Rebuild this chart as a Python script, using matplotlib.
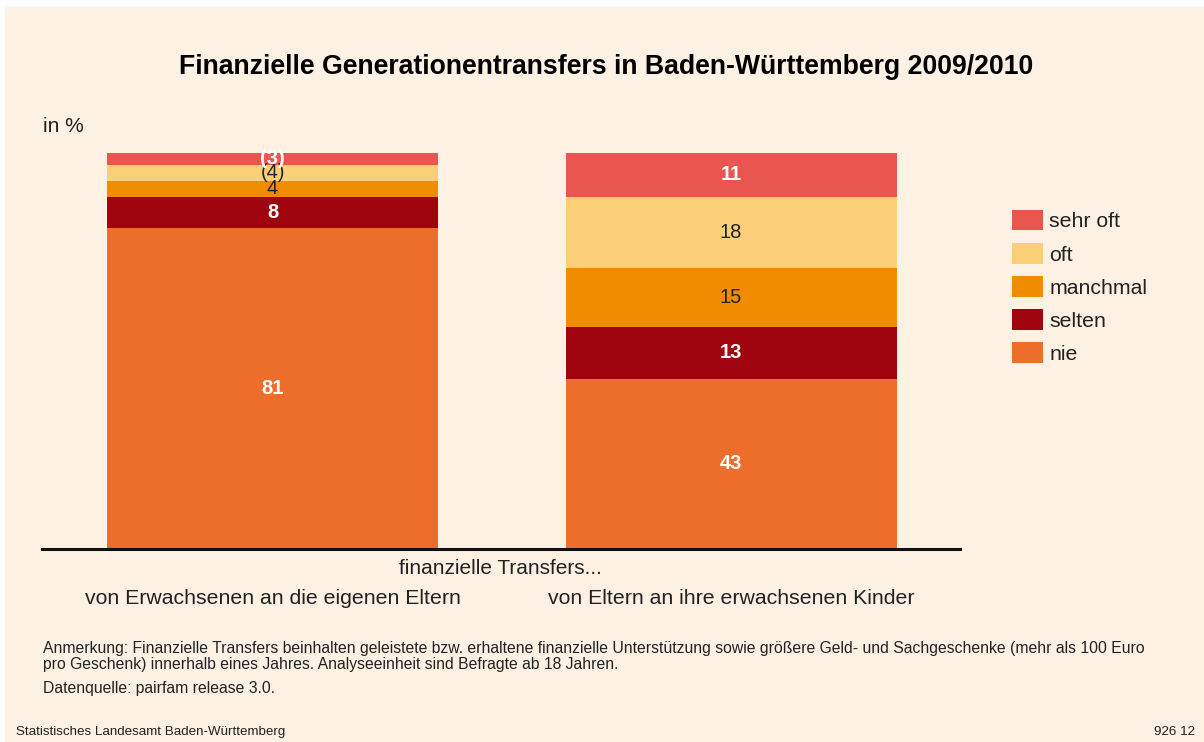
import matplotlib
matplotlib.use("Agg")
import matplotlib.pyplot as plt
from matplotlib.patches import Rectangle, Patch

# ---- data ----
categories = ["von Erwachsenen an die eigenen Eltern",
              "von Eltern an ihre erwachsenen Kinder"]
series_names = ["nie", "selten", "manchmal", "oft", "sehr oft"]
nie = [81, 43]
selten = [8, 13]
manchmal = [4, 15]
oft = [4, 18]
sehr_oft = [3, 11]
label_texts = {
    "nie": ["81", "43"],
    "selten": ["8", "13"],
    "manchmal": ["4", "15"],
    "oft": ["(4)", "18"],
    "sehr oft": ["(3)", "11"],
}
values = {"nie": nie, "selten": selten, "manchmal": manchmal, "oft": oft, "sehr oft": sehr_oft}

colors = {"nie": "#ec6e2a", "selten": "#a0050f", "manchmal": "#f08c00",
          "oft": "#fbcf78", "sehr oft": "#e9564f"}
label_style = {"nie": ("white", "bold"), "selten": ("white", "bold"),
               "manchmal": ("#222222", "normal"), "oft": ("#222222", "normal"),
               "sehr oft": ("white", "bold")}

BG = "#fdf1e4"
plt.rcParams['font.family'] = ['Liberation Sans', 'DejaVu Sans']

W, H = 1204, 742
fig = plt.figure(figsize=(W / 100, H / 100), dpi=100, facecolor="white")
fig.patches.append(Rectangle((5 / W, 0), 1, 1 - 7 / H, transform=fig.transFigure,
                             facecolor=BG, edgecolor="none", zorder=-10))

ax = fig.add_axes([42 / W, 1 - 549 / H, (960 - 42) / W, (549 - 153) / H])
ax.set_facecolor("none")
x = [0, 1]
bw = 0.722
bottom = [0, 0]
for name in series_names:
    vals = values[name]
    bars = ax.bar(x, vals, bw, bottom=bottom, color=colors[name], label=name, linewidth=0)
    col, wt = label_style[name]
    for i, b in enumerate(bars):
        ax.text(b.get_x() + b.get_width() / 2, bottom[i] + vals[i] / 2, label_texts[name][i],
                ha="center", va="center", color=col, fontweight=wt, fontsize=14.5)
    bottom = [bottom[i] + vals[i] for i in range(2)]

ax.set_xlim(-0.503, 1.4995)
ax.set_ylim(0, 100)
for s in ["top", "right", "left"]:
    ax.spines[s].set_visible(False)
ax.spines["bottom"].set_linewidth(2.2)
ax.spines["bottom"].set_color("#111111")
ax.set_yticks([])
ax.set_xticks(x)
ax.set_xticklabels(categories, fontsize=15.3, color="#222222")
ax.tick_params(axis="x", length=0, pad=29)

handles = [Patch(facecolor=colors[n], edgecolor="none", label=n) for n in series_names[::-1]]
leg = fig.legend(handles=handles, loc="upper left", bbox_to_anchor=(1012 / W, 1 - 210 / H),
                 bbox_transform=fig.transFigure, frameon=False, fontsize=15.3,
                 handlelength=1.45, handleheight=1.1, handletextpad=0.3,
                 labelspacing=0.55, borderpad=0, borderaxespad=0)
for t in leg.get_texts():
    t.set_color("#222222")

fig.text(606 / W, 1 - 67 / H, "Finanzielle Generationentransfers in Baden-Württemberg 2009/2010",
         ha="center", va="center", fontsize=19.2, fontweight="bold", color="black")
fig.text(43 / W, 1 - 127 / H, "in %", ha="left", va="center", fontsize=15, color="#222222")
fig.text(500 / W, 1 - 569 / H, "finanzielle Transfers...", ha="center", va="center",
         fontsize=15, color="#222222")
fig.text(43 / W, 1 - 649 / H,
         "Anmerkung: Finanzielle Transfers beinhalten geleistete bzw. erhaltene finanzielle Unterstützung sowie größere Geld- und Sachgeschenke (mehr als 100 Euro",
         ha="left", va="center", fontsize=11.3, color="#222222")
fig.text(43 / W, 1 - 664 / H,
         "pro Geschenk) innerhalb eines Jahres. Analyseeinheit sind Befragte ab 18 Jahren.",
         ha="left", va="center", fontsize=11.3, color="#222222")
fig.text(43 / W, 1 - 689 / H, "Datenquelle: pairfam release 3.0.",
         ha="left", va="center", fontsize=11.3, color="#222222")
fig.text(16 / W, 1 - 732 / H, "Statistisches Landesamt Baden-Württemberg",
         ha="left", va="center", fontsize=9.6, color="#222222")
fig.text(1195 / W, 1 - 732 / H, "926 12", ha="right", va="center", fontsize=9.6, color="#222222")

fig.savefig("out.png", dpi=100, facecolor="white")
